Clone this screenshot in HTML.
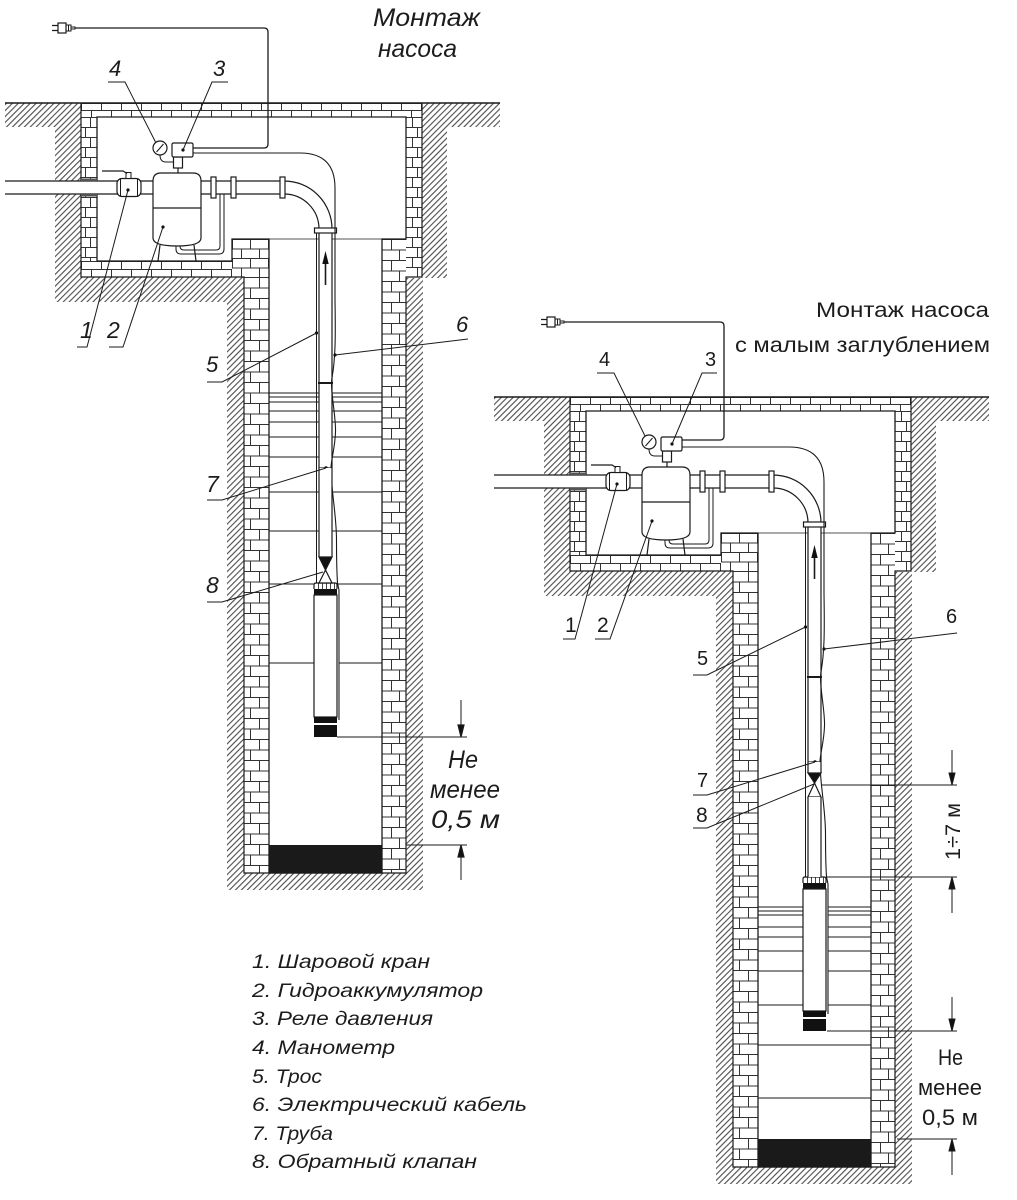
<!DOCTYPE html>
<html><head><meta charset="utf-8"><style>
html,body{margin:0;padding:0;background:#fff;}
svg{display:block;}
.it{font-family:"Liberation Sans",sans-serif;font-style:italic;fill:#1c1c1c;}
.up{font-family:"Liberation Sans",sans-serif;fill:#1c1c1c;}
</style></head><body>
<svg width="1017" height="1200" viewBox="0 0 1017 1200" xmlns="http://www.w3.org/2000/svg">
<defs>
<pattern id="h" patternUnits="userSpaceOnUse" width="4.2" height="4.2" patternTransform="rotate(45)"><line x1="2" y1="-1" x2="2" y2="6" stroke="#3a3a3a" stroke-width="1"/></pattern>
<pattern id="bh7" patternUnits="userSpaceOnUse" x="81" y="103" width="20" height="14"><path d="M0,0.5H20M0,7.5H20M0.5,0V7.5M10.5,7.5V14" stroke="#333" stroke-width="1" fill="none"/></pattern>
<pattern id="bh8" patternUnits="userSpaceOnUse" x="81" y="261" width="20" height="16"><path d="M0,0.5H20M0,8.5H20M0.5,0V8.5M10.5,8.5V16" stroke="#333" stroke-width="1" fill="none"/></pattern>
<pattern id="bst" patternUnits="userSpaceOnUse" x="232" y="239" width="18" height="19"><path d="M0,0.5H18M0,10H18M0.5,0V10M9.5,10V19" stroke="#333" stroke-width="1" fill="none"/></pattern>
<pattern id="bv25" patternUnits="userSpaceOnUse" x="244" y="277" width="25" height="21"><path d="M0,0.5H25M0,11H25M15.5,0.5V11M6.5,11V21" stroke="#333" stroke-width="1" fill="none"/></pattern>
<pattern id="bv24" patternUnits="userSpaceOnUse" x="382" y="239" width="24" height="21"><path d="M0,0.5H24M0,11H24M9.5,0.5V11M17.5,11V21" stroke="#333" stroke-width="1" fill="none"/></pattern>
<pattern id="bv16" patternUnits="userSpaceOnUse" x="81" y="117" width="16" height="20"><path d="M0,0.5H16M0,10.5H16M9.5,0.5V10.5M4.5,10.5V20" stroke="#333" stroke-width="1" fill="none"/></pattern>
<pattern id="bv16r" patternUnits="userSpaceOnUse" x="406" y="117" width="16" height="20"><path d="M0,0.5H16M0,10.5H16M6.5,0.5V10.5M11.5,10.5V20" stroke="#333" stroke-width="1" fill="none"/></pattern>

<g id="base" fill="none" stroke="#1a1a1a" stroke-width="1.2">
  <path fill="url(#h)" stroke="none" d="M5,103H81V277H244V873H406V278H422V103H500V127H447V278H423V890H227V302H55V127H5Z"/>
  <rect x="81" y="103" width="341" height="14" fill="url(#bh7)" stroke="none"/>
  <rect x="81" y="117" width="16" height="144" fill="url(#bv16)" stroke="none"/>
  <rect x="81" y="261" width="151" height="16" fill="url(#bh8)" stroke="none"/>
  <rect x="232" y="239" width="37" height="38" fill="url(#bst)" stroke="none"/>
  <rect x="244" y="277" width="25" height="596" fill="url(#bv25)" stroke="none"/>
  <rect x="382" y="239" width="24" height="634" fill="url(#bv24)" stroke="none"/>
  <rect x="406" y="117" width="16" height="160" fill="url(#bv16r)" stroke="none"/>
  <path d="M5,103H500" stroke-width="1.4"/>
  <path d="M81,103V277H244V873H406V277H422V103"/>
  <path d="M97,117H406V239H382V873H269V239H232V261H97Z" stroke-width="1.3"/>
  <path d="M269,239H382" stroke-width="0.8"/>
  <rect x="269" y="845" width="113" height="28" fill="#1a1a1a" stroke="none"/>

  <path fill="#fff" stroke="none" d="M5,181H284A48,48 0 0 1 332,229V468H319V229A35,35 0 0 0 284,194H5Z"/>
  <path d="M5,181H284A48,48 0 0 1 332,229V468M5,194H284A35,35 0 0 1 319,229V468"/>
  <rect x="81" y="178.5" width="16" height="2.5" fill="#555" stroke="none"/>
  <rect x="81" y="194" width="16" height="2.5" fill="#555" stroke="none"/>
  <rect x="211" y="177" width="5" height="21" fill="#fff"/>
  <rect x="231" y="177" width="5" height="21" fill="#fff"/>
  <rect x="280" y="177" width="5" height="21" fill="#fff"/>
  <rect x="314.5" y="228" width="22" height="5" fill="#fff"/>
  <path d="M325.5,285V262" stroke-width="1.6"/>
  <path d="M322.3,264L325.5,251L328.7,264Z" fill="#111" stroke="none"/>
  <path d="M318,383H333" stroke-width="2"/>
  <path d="M319,468H332"/>
  <circle cx="326" cy="468" r="1.8" fill="#111" stroke="none"/>

  <rect x="117" y="178.5" width="24" height="18" rx="5" fill="#fff"/>
  <path d="M120.5,179V196M137.5,179V196" stroke-width="1"/>
  <circle cx="128" cy="190" r="1.6" fill="#111" stroke="none"/>
  <rect x="126" y="172.5" width="5" height="6" fill="#fff" stroke-width="1"/>
  <path d="M102,171H123L127,173.5"/>

  <path d="M224,194V249Q224,254 219,254H181Q176,254 176,249V244M220,194V246Q220,250 216,250H184Q180,250 180,246V244" stroke-width="1"/>
  <path d="M160,245L158,261M194,245L196,261"/>

  <path fill="#fff" d="M153,238V181Q153,173 161,173H193Q201,173 201,181V238Q201,246 177,246Q153,246 153,238Z"/>
  <path d="M153,208H201"/>
  <circle cx="163" cy="227" r="1.6" fill="#111" stroke="none"/>

  <path d="M178,168V173"/>
  <rect x="173.5" y="157" width="9" height="11" fill="#fff"/>
  <rect x="172" y="143" width="21" height="14" rx="1.5" fill="#fff"/>
  <circle cx="183" cy="150" r="1.6" fill="#111" stroke="none"/>
  <path d="M160,155Q160,162 166,162H173.5" stroke-width="1"/>
  <circle cx="160" cy="148" r="7" fill="#fff"/>
  <path d="M156.5,152L163.5,144" stroke-width="1"/>

  <path d="M193,153H300Q335,153 335,188V300C335.5,330 335,350 334.5,355C334,370 331.5,378 331.5,383C331.5,398 336,418 335.5,432C335,448 331,460 331,468C331,490 336.5,515 336.5,540C336.5,560 337,575 337.5,583L339,590V720" stroke-width="1.1"/>
  <circle cx="335" cy="355" r="1.6" fill="#111" stroke="none"/>
  <path d="M316.5,233V583" stroke-width="1"/>
  <circle cx="316.5" cy="333" r="1.6" fill="#111" stroke="none"/>

  <path d="M314,589V585Q314,583 316,583H335Q337,583 337,585V589" fill="#fff"/>
  <path d="M318.5,583.5V589M322.5,583.5V589M326.5,583.5V589M330.5,583.5V589M334.5,583.5V589" stroke-width="0.8"/>
  <rect x="314" y="589" width="23" height="6" fill="#111" stroke="none"/>
  <rect x="314" y="595" width="23" height="122" fill="#fff"/>
  <rect x="314" y="717" width="23" height="6" fill="#111" stroke="none"/>
  <rect x="314" y="725" width="23" height="12" fill="#111" stroke="none"/>

  <path d="M52,25.5H58M52,30.5H58" stroke-width="1.3"/>
  <rect x="58" y="23" width="8" height="10" fill="#fff" stroke-width="1.2"/>
  <path d="M66,25H71V31H66M68.5,25V31M71,27H75V29H71" stroke-width="1"/>
</g>
</defs>

<rect width="1017" height="1200" fill="#fff"/>

<use href="#base"/>
<g fill="none" stroke="#1a1a1a" stroke-width="1.2">
  <path d="M269,393H319M332,393H382M269,397H319M332,397H382M269,402H319M332,402H382M269,411H319M332,411H382M269,422H319M332,422H382M269,437H319M332,437H382M269,457H319M332,457H382M269,492H319M332,492H382M269,531H319M332,531H382M269,584H314M337,584H382M269,663H314M339,663H382" stroke-width="1"/>
  <rect x="319" y="468" width="13" height="89" fill="#fff" stroke="none"/>
  <path d="M319,468V557M332,468V557"/>
  <path d="M319,557H332L325.5,570Z" fill="#111"/>
  <path d="M325.5,570L319,583H332Z" fill="#fff"/>
  <path d="M75,28H264Q268,28 268,32V144Q268,148 264,148H193" stroke-width="1.3"/>
  <path d="M108,82H125L156,143" stroke-width="1"/>
  <path d="M228,82H212L183,150" stroke-width="1"/>
  <path d="M77,347H87L128,190" stroke-width="1"/>
  <path d="M109,347H123L163,227" stroke-width="1"/>
  <path d="M207,382H222L316.5,333" stroke-width="1"/>
  <path d="M468,339L335,355" stroke-width="1"/>
  <path d="M207,500H222L326,468" stroke-width="1"/>
  <path d="M207,602H222L323,572" stroke-width="1"/>
  <path d="M337,737H467M406,845H467M461,700V727M461,880V855" stroke-width="1"/>
  <path d="M458,725L464,725L461,737Z" fill="#111"/>
  <path d="M458,857L464,857L461,845Z" fill="#111"/>
</g>
<g class="it">
  <text x="373" y="26" font-size="25" textLength="107" lengthAdjust="spacingAndGlyphs">Монтаж</text>
  <text x="378" y="57" font-size="25" textLength="79" lengthAdjust="spacingAndGlyphs">насоса</text>
  <text x="109" y="76" font-size="22">4</text>
  <text x="213" y="76" font-size="22">3</text>
  <text x="80" y="338" font-size="23">1</text>
  <text x="107" y="338" font-size="23">2</text>
  <text x="206" y="372" font-size="22">5</text>
  <text x="456" y="332" font-size="22">6</text>
  <text x="206" y="492" font-size="23">7</text>
  <text x="206" y="593" font-size="23">8</text>
  <text x="448" y="768" font-size="25" textLength="30" lengthAdjust="spacingAndGlyphs">Не</text>
  <text x="430" y="798" font-size="25" textLength="70" lengthAdjust="spacingAndGlyphs">менее</text>
  <text x="431" y="828" font-size="25" textLength="69" lengthAdjust="spacingAndGlyphs">0,5 м</text>
</g>

<g class="it" font-size="19.5">
  <text x="252" y="968" textLength="178" lengthAdjust="spacingAndGlyphs">1. Шаровой кран</text>
  <text x="252" y="997" textLength="231" lengthAdjust="spacingAndGlyphs">2. Гидроаккумулятор</text>
  <text x="252" y="1025" textLength="181" lengthAdjust="spacingAndGlyphs">3. Реле давления</text>
  <text x="252" y="1054" textLength="143" lengthAdjust="spacingAndGlyphs">4. Манометр</text>
  <text x="252" y="1083" textLength="70" lengthAdjust="spacingAndGlyphs">5. Трос</text>
  <text x="252" y="1111" textLength="275" lengthAdjust="spacingAndGlyphs">6. Электрический кабель</text>
  <text x="252" y="1140" textLength="81" lengthAdjust="spacingAndGlyphs">7. Труба</text>
  <text x="252" y="1168" textLength="225" lengthAdjust="spacingAndGlyphs">8. Обратный клапан</text>
</g>

<g transform="translate(489,294)">
  <use href="#base"/>
  <g fill="none" stroke="#1a1a1a" stroke-width="1.2">
    <path d="M269,613H314M339,613H382M269,617H314M339,617H382M269,621H314M339,621H382M269,633H314M339,633H382M269,643H314M339,643H382M269,657H314M339,657H382M269,677H314M339,677H382M269,711H314M339,711H382M269,751H382M269,804H382" stroke-width="1"/>
    <rect x="319" y="468" width="13" height="11" fill="#fff" stroke="none"/>
    <path d="M319,468V479M332,468V479"/>
    <path d="M319,479H332L325.5,489Z" fill="#111"/>
    <path d="M325.5,489L319,503H332Z" fill="#fff"/>
    <rect x="319" y="503" width="13" height="80" fill="#fff" stroke="none"/>
    <path d="M319,503V583M332,503V583"/>
    <path d="M75,28H231Q235,28 235,32V142Q235,146 231,146H193" stroke-width="1.3"/>
  </g>
</g>
<g fill="none" stroke="#1a1a1a" stroke-width="1">
  <path d="M597,373H614L645,436"/>
  <path d="M717,373H702L672,444"/>
  <path d="M563,639H575L617,484"/>
  <path d="M595,639H610L652,521"/>
  <path d="M693,675H707L805.5,627"/>
  <path d="M957,633L824,649"/>
  <path d="M693,795H707L815,762"/>
  <path d="M693,828H707L814,784"/>
  <path d="M821,785H957M827,877H957M827,1031H957M897,1139H957"/>
  <path d="M952,750V775M952,913V887M952,997V1021M952,1175V1149"/>
  <path d="M949,773L955,773L952,785Z" fill="#111"/>
  <path d="M949,889L955,889L952,877Z" fill="#111"/>
  <path d="M949,1019L955,1019L952,1031Z" fill="#111"/>
  <path d="M949,1151L955,1151L952,1139Z" fill="#111"/>
</g>
<g class="up">
  <text x="816" y="317" font-size="21" textLength="173" lengthAdjust="spacingAndGlyphs">Монтаж насоса</text>
  <text x="735" y="352" font-size="21" textLength="255" lengthAdjust="spacingAndGlyphs">с малым заглублением</text>
  <text x="599" y="366" font-size="20">4</text>
  <text x="705" y="366" font-size="20">3</text>
  <text x="565" y="632" font-size="21">1</text>
  <text x="597" y="632" font-size="21">2</text>
  <text x="697" y="665" font-size="20">5</text>
  <text x="946" y="623" font-size="20">6</text>
  <text x="697" y="787" font-size="20">7</text>
  <text x="696" y="822" font-size="21">8</text>
  <text transform="translate(960,860) rotate(-90)" font-size="21" textLength="57" lengthAdjust="spacingAndGlyphs">1÷7 м</text>
  <text x="938" y="1065" font-size="22" textLength="25" lengthAdjust="spacingAndGlyphs">Не</text>
  <text x="918" y="1095" font-size="22" textLength="64" lengthAdjust="spacingAndGlyphs">менее</text>
  <text x="922" y="1125" font-size="22" textLength="56" lengthAdjust="spacingAndGlyphs">0,5 м</text>
</g>
</svg>
</body></html>
